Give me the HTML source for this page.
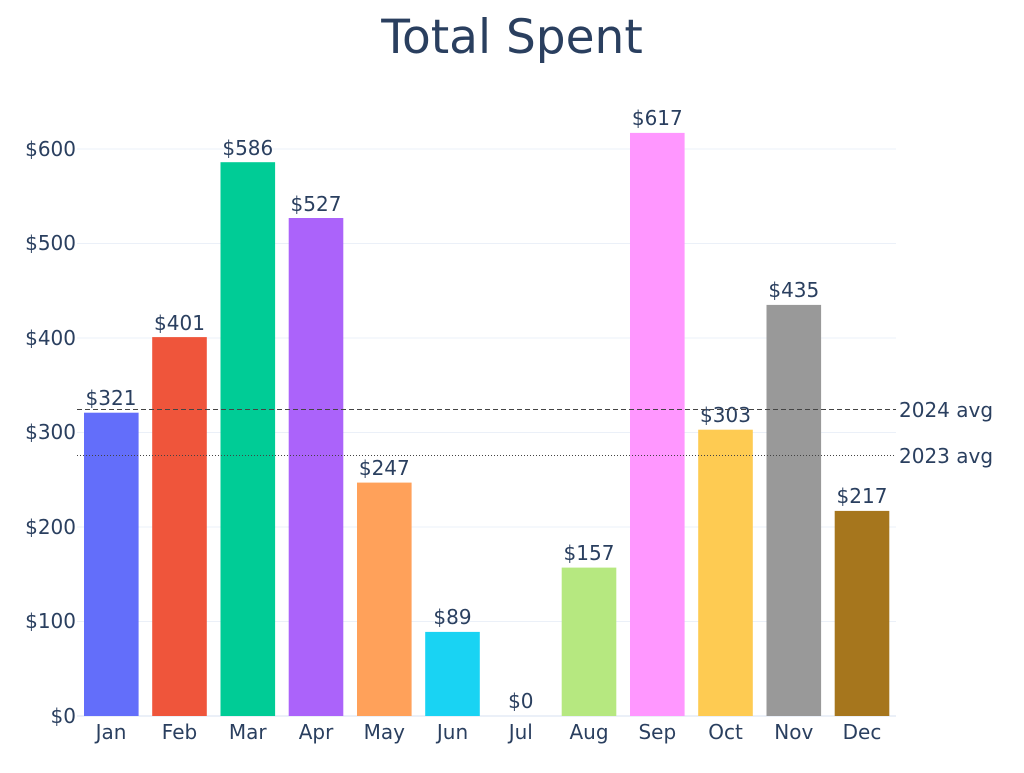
<!DOCTYPE html>
<html><head><meta charset="utf-8"><style>html,body{margin:0;padding:0;background:#fff}</style></head>
<body>
<svg width="1024" height="768" xmlns="http://www.w3.org/2000/svg" font-family="DejaVu Sans, Verdana, sans-serif" fill="#2a3f5f">
<rect width="1024" height="768" fill="#fff"/>
<text x="512" y="53" font-size="47" text-anchor="middle">Total Spent</text>
<g stroke="#ebf0f8" stroke-width="1">
<line x1="77" x2="896" y1="621.5" y2="621.5"/>
<line x1="77" x2="896" y1="527" y2="527"/>
<line x1="77" x2="896" y1="432.5" y2="432.5"/>
<line x1="77" x2="896" y1="338" y2="338"/>
<line x1="77" x2="896" y1="243.5" y2="243.5"/>
<line x1="77" x2="896" y1="149" y2="149"/>
</g>
<line x1="77" x2="896" y1="716" y2="716" stroke="#ebf0f8" stroke-width="2"/>
<g font-size="20" text-anchor="end">
<text x="76" y="723">$0</text>
<text x="76" y="628">$100</text>
<text x="76" y="534">$200</text>
<text x="76" y="439">$300</text>
<text x="76" y="345">$400</text>
<text x="76" y="250">$500</text>
<text x="76" y="156">$600</text>
</g>
<g>
<rect x="84" y="412.7" width="54.6" height="303.3" fill="#636efa"/>
<rect x="152.2" y="337.1" width="54.6" height="378.9" fill="#EF553B"/>
<rect x="220.5" y="162.2" width="54.6" height="553.8" fill="#00cc96"/>
<rect x="288.7" y="218" width="54.6" height="498" fill="#ab63fa"/>
<rect x="357" y="482.6" width="54.6" height="233.4" fill="#FFA15A"/>
<rect x="425.2" y="631.9" width="54.6" height="84.1" fill="#19d3f3"/>
<rect x="561.7" y="567.6" width="54.6" height="148.4" fill="#B6E880"/>
<rect x="630" y="132.9" width="54.6" height="583.1" fill="#FF97FF"/>
<rect x="698.2" y="429.7" width="54.6" height="286.3" fill="#FECB52"/>
<rect x="766.5" y="304.9" width="54.6" height="411.1" fill="#999999"/>
<rect x="834.7" y="510.9" width="54.6" height="205.1" fill="#A6761D"/>
</g>
<g font-size="20" text-anchor="middle">
<text x="111" y="405">$321</text>
<text x="179.5" y="330">$401</text>
<text x="247.8" y="155">$586</text>
<text x="316" y="211">$527</text>
<text x="384.3" y="475">$247</text>
<text x="452.5" y="624">$89</text>
<text x="520.8" y="708">$0</text>
<text x="589" y="560">$157</text>
<text x="657.3" y="125">$617</text>
<text x="725.5" y="422">$303</text>
<text x="793.8" y="297">$435</text>
<text x="862" y="503">$217</text>
</g>
<g font-size="20" text-anchor="middle">
<text x="111" y="739">Jan</text>
<text x="179.5" y="739">Feb</text>
<text x="247.8" y="739">Mar</text>
<text x="316" y="739">Apr</text>
<text x="384.3" y="739">May</text>
<text x="452.5" y="739">Jun</text>
<text x="520.8" y="739">Jul</text>
<text x="589" y="739">Aug</text>
<text x="657.3" y="739">Sep</text>
<text x="725.5" y="739">Oct</text>
<text x="793.8" y="739">Nov</text>
<text x="862" y="739">Dec</text>
</g>
<line x1="77" x2="896" y1="409.5" y2="409.5" stroke="#444" stroke-width="1" stroke-dasharray="5,3"/>
<line x1="77" x2="896" y1="455.5" y2="455.5" stroke="#444" stroke-width="1" stroke-dasharray="1,2"/>
<text x="899" y="417" font-size="20">2024 avg</text>
<text x="899" y="463" font-size="20">2023 avg</text>
</svg>
</body></html>
